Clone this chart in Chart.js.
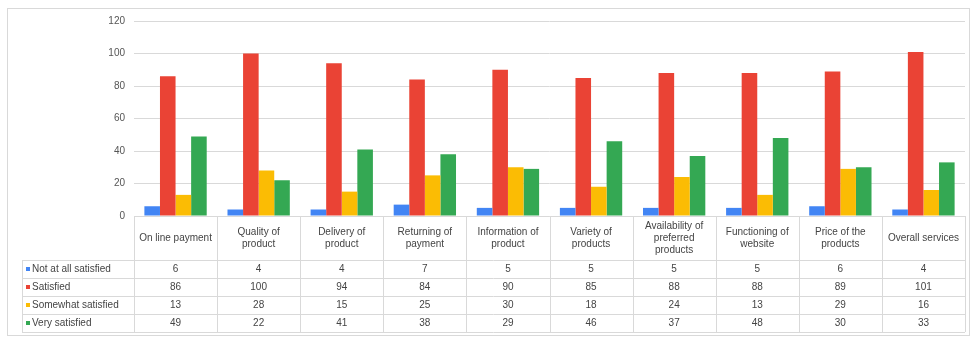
<!DOCTYPE html>
<html>
<head>
<meta charset="utf-8">
<script src="https://cdn.jsdelivr.net/npm/chart.js@4.4.1/dist/chart.umd.min.js"></script>
<style>
  html, body { margin: 0; padding: 0; background: #fff; }
  #wrap { position: relative; width: 972px; height: 338px; }
</style>
</head>
<body>
<div id="wrap"><canvas id="satisfaction"></canvas></div>
<script>
// categories and series
const categories = [
  ['On line payment'],
  ['Quality of', 'product'],
  ['Delivery of', 'product'],
  ['Returning of', 'payment'],
  ['Information of', 'product'],
  ['Variety of', 'products'],
  ['Availability of', 'preferred', 'products'],
  ['Functioning of', 'website'],
  ['Price of the', 'products'],
  ['Overall services']
];
const seriesNames = ['Not at all satisfied', 'Satisfied', 'Somewhat satisfied', 'Very satisfied'];
const notAtAll = [6, 4, 4, 7, 5, 5, 5, 5, 6, 4];
const satisfied = [86, 100, 94, 84, 90, 85, 88, 88, 89, 101];
const somewhat = [13, 28, 15, 25, 30, 18, 24, 13, 29, 16];
const verySatisfied = [49, 22, 41, 38, 29, 46, 37, 48, 30, 33];
const yTicks = [0, 20, 40, 60, 80, 100, 120];

const colors = ['#4285f4', '#ea4335', '#fbbc04', '#34a853'];
const values = [notAtAll, satisfied, somewhat, verySatisfied];
const FONT = '10px "Liberation Sans", Arial, sans-serif';

// draws the data table under the plot, columns follow the x scale
const dataTable = {
  id: 'dataTable',
  afterDraw(chart) {
    const ctx = chart.ctx;
    const area = chart.chartArea;
    const xs = chart.scales.x;
    const colW = (area.right - area.left) / categories.length;
    const headBottom = area.bottom + 44;
    const rowH = 18;
    const tableBottom = headBottom + rowH * seriesNames.length;
    const legendLeft = 22;

    ctx.save();
    ctx.strokeStyle = '#d9d9d9';
    ctx.lineWidth = 1;

    // outer frame
    ctx.strokeRect(7.5, 8.5, 962, 327);

    // horizontal lines
    ctx.beginPath();
    ctx.moveTo(area.left, area.bottom + 0.5);
    ctx.lineTo(area.right, area.bottom + 0.5);
    for (let r = 0; r <= seriesNames.length; r++) {
      const y = Math.round(headBottom + r * rowH) + 0.5;
      ctx.moveTo(legendLeft, y);
      ctx.lineTo(area.right, y);
    }
    // vertical lines
    for (let i = 0; i <= categories.length; i++) {
      const x = Math.round(area.left + i * colW) + 0.5;
      ctx.moveTo(x, area.bottom);
      ctx.lineTo(x, tableBottom);
    }
    ctx.moveTo(legendLeft + 0.5, headBottom);
    ctx.lineTo(legendLeft + 0.5, tableBottom);
    ctx.stroke();

    ctx.font = FONT;
    ctx.fillStyle = '#444';
    ctx.textAlign = 'center';
    ctx.textBaseline = 'middle';

    // header labels
    categories.forEach((lines, i) => {
      const cx = xs.getPixelForValue(i);
      const cy = (area.bottom + headBottom) / 2;
      const lh = 12;
      lines.forEach((t, k) => {
        ctx.fillText(t, cx, cy + (k - (lines.length - 1) / 2) * lh);
      });
    });

    // rows
    seriesNames.forEach((name, r) => {
      const cy = headBottom + r * rowH + rowH / 2;
      ctx.fillStyle = colors[r];
      ctx.fillRect(legendLeft + 4, cy - 2, 4, 4);
      ctx.fillStyle = '#444';
      ctx.textAlign = 'left';
      ctx.fillText(name, legendLeft + 10, cy);
      ctx.textAlign = 'center';
      values[r].forEach((v, i) => {
        ctx.fillText(String(v), xs.getPixelForValue(i), cy);
      });
    });
    ctx.restore();
  }
};

new Chart(document.getElementById('satisfaction'), {
  type: 'bar',
  data: {
    labels: categories.map(c => c.join(' ')),
    datasets: seriesNames.map((name, i) => ({
      label: name,
      data: values[i],
      backgroundColor: colors[i],
      borderWidth: 0,
      barPercentage: 1,
      categoryPercentage: 0.75
    }))
  },
  options: {
    responsive: true,
    maintainAspectRatio: false,
    animation: false,
    layout: { padding: { left: 0, top: 21, right: 7, bottom: 122 } },
    plugins: {
      legend: { display: false },
      tooltip: { enabled: false }
    },
    scales: {
      x: { display: false },
      y: {
        min: 0,
        max: 120,
        afterBuildTicks: scale => { scale.ticks = yTicks.map(v => ({ value: v })); },
        afterFit: scale => { scale.width = 134; },
        border: { display: false },
        grid: { color: '#d9d9d9', drawTicks: false },
        ticks: {
          padding: 9,
          color: '#555',
          font: { family: '"Liberation Sans", Arial, sans-serif', size: 10 }
        }
      }
    }
  },
  plugins: [dataTable]
});
</script>
</body>
</html>
